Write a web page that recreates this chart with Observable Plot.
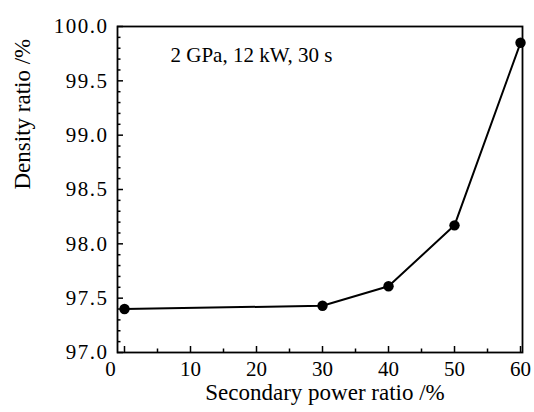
<!DOCTYPE html>
<html><head><meta charset="utf-8">
<script src="https://cdn.jsdelivr.net/npm/d3@7"></script>
<script src="https://cdn.jsdelivr.net/npm/@observablehq/plot@0.6"></script>
<style>
body{margin:0;background:#fff;}
#chart svg{display:block;}
#chart svg text{font-family:"Liberation Serif","Times New Roman",serif !important;font-variant:normal !important;}
g[aria-label="y-axis tick label"] text{letter-spacing:1.5px;}
</style></head><body><div id="chart"></div>
<script>
const powerRatio = [0, 30, 40, 50, 60];
const densityRatio = [97.40, 97.43, 97.61, 98.17, 99.85];
const xTicks = [0, 10, 20, 30, 40, 50, 60];
const xMinorTicks = [5, 15, 25, 35, 45, 55];
const yTicks = [97.0, 97.5, 98.0, 98.5, 99.0, 99.5, 100.0];
const yMinorTicks = [97.1, 97.2, 97.3, 97.4, 97.6, 97.7, 97.8, 97.9, 98.1, 98.2, 98.3, 98.4,
  98.6, 98.7, 98.8, 98.9, 99.1, 99.2, 99.3, 99.4, 99.6, 99.7, 99.8, 99.9];
const annotation = "2 GPa, 12 kW, 30 s";
const xLabel = "Secondary power ratio /%";
const yLabel = "Density ratio /%";

const data = powerRatio.map((x, i) => ({ratio: x, density: densityRatio[i]}));

const W = 534, H = 412, mL = 117, mT = 26, mR = 12, mB = 60;
const pw = W - mL - mR, ph = H - mT - mB;

const chart = Plot.plot({
  width: W,
  height: H,
  marginLeft: mL,
  marginTop: mT,
  marginRight: mR,
  marginBottom: mB,
  style: {fontFamily: "Liberation Serif", fontSize: "21px", background: "white", color: "black"},
  x: {domain: [-1.06, 60.3], label: null},
  y: {domain: [97, 100], label: null},
  marks: [
    Plot.frame({stroke: "black", strokeWidth: 1.8}),
    Plot.tickY(yTicks, {y: d => d, insetRight: pw - 6, stroke: "black", strokeWidth: 1.5}),
    Plot.tickY(yMinorTicks, {y: d => d, insetRight: pw - 3.5, stroke: "black", strokeWidth: 1.5}),
    Plot.tickX(xTicks, {x: d => d, insetTop: ph - 6, stroke: "black", strokeWidth: 1.5}),
    Plot.tickX(xMinorTicks, {x: d => d, insetTop: ph - 3.5, stroke: "black", strokeWidth: 1.5}),
    Plot.axisY(yTicks, {tickSize: 0, tickPadding: 9, tickFormat: d3.format(".1f"), fontSize: 21, label: null}),
    Plot.axisX(xTicks.slice(1), {tickSize: 0, tickPadding: 9, fontSize: 21, label: null}),
    Plot.axisX(xTicks.slice(0, 1), {tickSize: 0, tickPadding: 9, fontSize: 21, dx: -14, label: null}),
    Plot.line(data, {x: "ratio", y: "density", stroke: "black", strokeWidth: 2}),
    Plot.dot(data, {x: "ratio", y: "density", r: 5.2, fill: "black", stroke: "none"}),
    Plot.text([annotation], {frameAnchor: "top-left", dx: 53, dy: 29, textAnchor: "start", lineAnchor: "middle", fontSize: 21}),
    Plot.text([yLabel], {frameAnchor: "left", dx: -95, rotate: -90, fontSize: 23, lineAnchor: "middle"}),
    Plot.text([xLabel], {frameAnchor: "bottom", dy: 40, dx: 5, fontSize: 23, lineAnchor: "middle"})
  ]
});
document.getElementById("chart").appendChild(chart);
</script></body></html>
